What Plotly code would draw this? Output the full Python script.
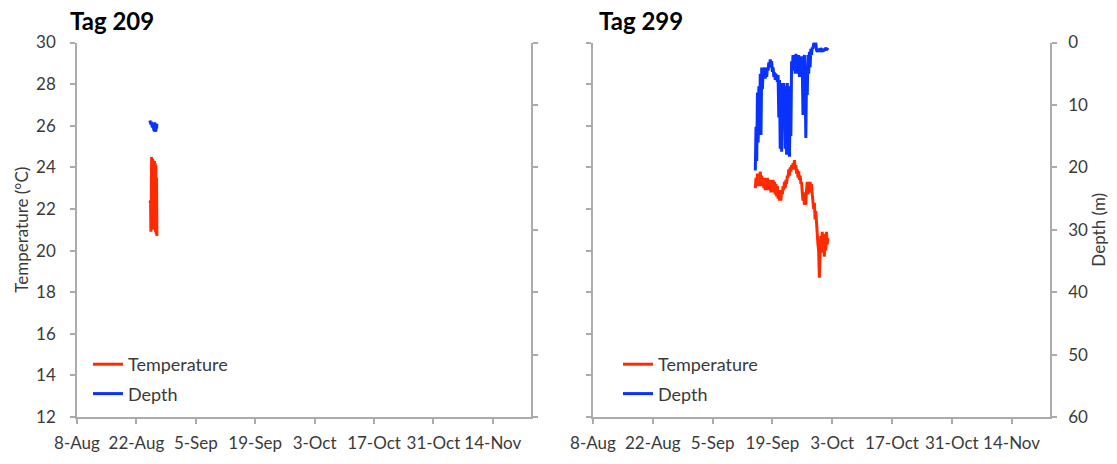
import pandas as pd
import plotly.graph_objects as go

# ---- data -------------------------------------------------------------
# Tag 209: short record, 2-hourly samples
tag209_start = "2012-08-25 04:00"
tag209_step = "2h"
tag209_temp = [22.3, 21.0, 22.4, 20.9, 22.2, 24.5, 21.0, 24.4, 21.1, 24.3,
               21.0, 24.2, 21.2, 24.3, 21.0, 24.2, 20.9, 24.1, 20.8, 23.5, 20.7]
tag209_depth = [12.5, 12.9, 12.6, 13.1, 12.7, 13.2, 12.9, 13.6, 13.0, 13.9,
                12.9, 14.1, 13.2, 14.3, 12.8, 14.2, 13.0, 14.3, 13.1, 13.8, 13.0]

# Tag 299: 4-hourly samples
tag299_start = "2012-09-15 00:00"
tag299_step = "4h"
tag299_depth = [
    20.5, 13.5, 19.0, 8.0, 16.0, 7.0,
    13.0, 5.0, 14.8, 4.0, 7.5, 4.2,
    5.5, 4.0, 5.8, 4.3, 5.5, 4.0,
    4.5, 3.2, 4.0, 2.7, 3.8, 3.0,
    4.7, 4.0, 5.5, 4.8, 6.0, 5.0,
    5.5, 6.3, 5.2, 12.0, 6.0, 17.0,
    7.0, 17.5, 6.5, 13.0, 6.5, 9.0,
    17.0, 7.0, 18.0, 6.5, 17.0, 7.0,
    18.3, 8.0, 15.0, 3.0, 4.5, 2.0,
    4.5, 2.0, 5.0, 1.8, 4.5, 2.2,
    5.0, 2.0, 5.5, 2.5, 5.0, 2.2,
    4.0, 11.6, 3.0, 2.0, 6.0, 15.3,
    5.0, 8.4, 2.0, 5.0, 1.5, 4.0,
    1.0, 2.0, 0.8, 1.0, 0.2, 0.0,
    0.5, 0.0, 1.2, 1.5, 1.0, 1.3,
    1.0, 1.5, 0.9, 1.2, 1.5, 1.0,
    1.4, 1.0, 1.3, 0.8, 1.2, 1.0, 1.2,
]
tag299_temp = [
    23.0, 23.5, 23.1, 23.7, 23.2, 23.6,
    23.1, 23.8, 23.2, 23.6, 23.1, 23.5,
    23.0, 23.5, 22.9, 23.4, 23.0, 23.5,
    22.9, 23.4, 23.0, 23.4, 22.8, 23.3,
    22.9, 23.4, 22.8, 23.3, 22.7, 23.2,
    22.6, 23.1, 22.5, 22.9, 22.4, 22.8,
    22.4, 22.9, 22.7, 23.1, 22.9, 23.3,
    23.0, 23.4, 23.2, 23.6, 23.5, 23.9,
    23.6, 24.0, 23.8, 24.1, 23.9, 24.2,
    24.0, 24.35, 23.9, 24.1, 23.7, 23.9,
    23.5, 23.8, 23.4, 23.6, 23.2, 23.3,
    22.8, 22.4, 22.8, 22.2, 22.6, 22.2,
    22.9, 23.3, 22.7, 23.2, 22.8, 23.3,
    22.8, 23.2, 22.7, 22.4, 22.0, 22.3,
    21.5, 21.9, 21.1, 21.0, 20.3, 20.0,
    18.7, 19.8, 20.7, 19.9, 20.9, 20.1,
    20.8, 19.7, 20.8, 20.0, 20.9, 20.3, 20.6,
]

x_start = "2012-08-08"
x_end = "2012-11-23"
temp_range = [12, 30]
depth_range = [60, 0]
panel_titles = ["Tag 209", "Tag 299"]

t209 = pd.date_range(tag209_start, periods=len(tag209_temp), freq=tag209_step)
t299 = pd.date_range(tag299_start, periods=len(tag299_temp), freq=tag299_step)

# ---- styling ----------------------------------------------------------
W, H = 1117, 464
FONT = "Lato, 'Open Sans', sans-serif"
AXIS_COL = "#ababab"
TEXT_COL = "#3a3a3a"
RED = "#ff2a00"
BLUE = "#0a32ff"
LW = 3


def fx(px):
    return px / W


def fy(py):
    return 1 - py / H


ydom = [fy(417), fy(42.5)]
left_dom = [fx(77), fx(531)]
right_dom = [fx(593), fx(1050)]

fig = go.Figure()

# left panel
fig.add_trace(go.Scatter(x=t209, y=tag209_temp, mode="lines", name="Temperature",
                         line=dict(color=RED, width=LW), xaxis="x", yaxis="y",
                         legend="legend", legendgroup="t1"))
fig.add_trace(go.Scatter(x=t209, y=tag209_depth, mode="lines", name="Depth",
                         line=dict(color=BLUE, width=LW), xaxis="x", yaxis="y2",
                         legend="legend", legendgroup="d1"))
# right panel
fig.add_trace(go.Scatter(x=t299, y=tag299_temp, mode="lines", name="Temperature",
                         line=dict(color=RED, width=LW), xaxis="x2", yaxis="y3",
                         legend="legend2", legendgroup="t2"))
fig.add_trace(go.Scatter(x=t299, y=tag299_depth, mode="lines", name="Depth",
                         line=dict(color=BLUE, width=LW), xaxis="x2", yaxis="y4",
                         legend="legend2", legendgroup="d2"))

tickfont = dict(family=FONT, size=17, color=TEXT_COL)
common_axis = dict(showline=True, linecolor=AXIS_COL, linewidth=1.5,
                   ticks="outside", tickcolor=AXIS_COL, tickwidth=1.5,
                   showgrid=False, zeroline=False, tickfont=tickfont,
                   automargin=False)

xaxis_cfg = dict(common_axis, type="date", range=[x_start, x_end],
                 tick0=x_start, dtick=14 * 86400000, tickformat="%-d-%b",
                 ticklen=5, ticklabelstandoff=5, fixedrange=True)

temp_cfg = dict(common_axis, range=temp_range, dtick=2, ticklen=5)
depth_cfg = dict(common_axis, range=depth_range, dtick=10, ticklen=5)

legend_font = dict(family=FONT, size=18, color=TEXT_COL)
title_font = dict(family=FONT, size=17, color=TEXT_COL)

fig.update_layout(
    width=W, height=H,
    margin=dict(l=0, r=0, t=0, b=0),
    paper_bgcolor="white", plot_bgcolor="white",
    font=dict(family=FONT, color=TEXT_COL),
    xaxis=dict(xaxis_cfg, domain=left_dom, anchor="y"),
    xaxis2=dict(xaxis_cfg, domain=right_dom, anchor="y3"),
    yaxis=dict(temp_cfg, domain=ydom, anchor="x", side="left",
               ticklabelstandoff=11,
               title=dict(text="Temperature (°C)", standoff=3, font=title_font)),
    yaxis2=dict(depth_cfg, domain=ydom, anchor="x", overlaying="y",
                side="right", showticklabels=False),
    yaxis3=dict(temp_cfg, domain=ydom, anchor="x2", side="left",
                showticklabels=False),
    yaxis4=dict(depth_cfg, domain=ydom, anchor="x2", overlaying="y3",
                side="right", ticklabelstandoff=8,
                title=dict(text="Depth (m)", standoff=5, font=title_font)),
    legend=dict(x=fx(88), y=fy(346), xanchor="left", yanchor="top",
                bgcolor="rgba(0,0,0,0)", font=legend_font,
                traceorder="grouped", tracegroupgap=3),
    legend2=dict(x=fx(618), y=fy(346), xanchor="left", yanchor="top",
                 bgcolor="rgba(0,0,0,0)", font=legend_font,
                 traceorder="grouped", tracegroupgap=3),
    showlegend=True,
)

for title, px in zip(panel_titles, [68, 597]):
    fig.add_annotation(text=f"<b>{title}</b>", xref="paper", yref="paper",
                       x=fx(px), y=fy(20), xanchor="left", yanchor="middle",
                       showarrow=False,
                       font=dict(family=FONT, size=24, color="#000000"))

fig.write_html("out.html")
